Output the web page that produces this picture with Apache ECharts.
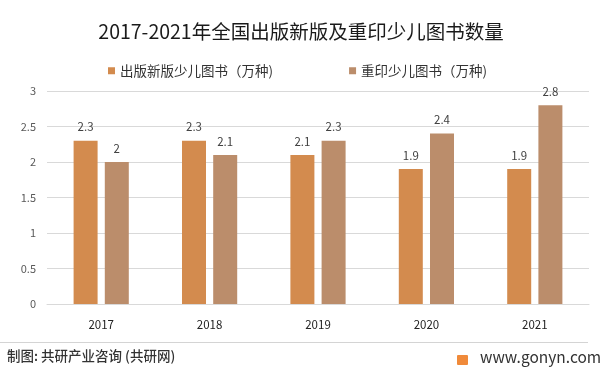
<!DOCTYPE html>
<html><head><meta charset="utf-8">
<script src="https://cdn.jsdelivr.net/npm/echarts@6/dist/echarts.min.js"></script>
<style>html,body{margin:0;padding:0;background:#fff}#c{width:602px;height:375px}</style>
</head><body><div id="c"></div>
<script>
const categories = ['2017','2018','2019','2020','2021'];
const newBooks = [2.3, 2.3, 2.1, 1.9, 1.9];
const reprintBooks = [2.0, 2.1, 2.3, 2.4, 2.8];
const seriesNames = ['出版新版少儿图书（万种)', '重印少儿图书（万种)'];
const yTicks = [0, 0.5, 1, 1.5, 2, 2.5, 3];

const chart = echarts.init(document.getElementById('c'));
const font = '"Noto Sans CJK SC", "Microsoft YaHei", sans-serif';
chart.setOption({
  backgroundColor: '#fff',
  animation: false,
  title: {
    text: '2017-2021年全国出版新版及重印少儿图书数量',
    left: 'center', top: 17,
    textStyle: {fontFamily: font, fontSize: 19.5, fontWeight: 'normal', color: '#1a1a1a'}
  },
  legend: {
    top: 59, left: 103, itemGap: 76,
    itemWidth: 7, itemHeight: 7, icon: 'rect',
    textStyle: {fontFamily: font, fontSize: 13.5, color: '#333'},
    data: seriesNames
  },
  grid: {left: 47, right: 13, top: 91, bottom: 71, containLabel: false},
  xAxis: {
    type: 'category', data: categories,
    axisLine: {lineStyle: {color: '#d9d9d9'}},
    axisTick: {show: false},
    axisLabel: {fontFamily: font, fontSize: 11.5, color: '#222', margin: 15}
  },
  yAxis: {
    type: 'value', min: yTicks[0], max: yTicks[yTicks.length-1], interval: 0.5,
    axisLine: {show: false}, axisTick: {show: false},
    splitLine: {lineStyle: {color: '#d9d9d9'}},
    axisLabel: {fontFamily: font, fontSize: 11, color: '#595959', margin: 11}
  },
  series: [
    {name: seriesNames[0], type: 'bar', data: newBooks, barWidth: 24, barGap: '30%',
     itemStyle: {color: '#D38B4E'},
     label: {show: true, position: 'top', distance: 8, fontFamily: font, fontSize: 11.5, color: '#404040'}},
    {name: seriesNames[1], type: 'bar', data: reprintBooks, barWidth: 24,
     itemStyle: {color: '#BB8D6B'},
     label: {show: true, position: 'top', distance: 8, fontFamily: font, fontSize: 11.5, color: '#404040'}}
  ],
  graphic: [
    {type: 'rect', shape: {x: 0, y: 342, width: 588, height: 1}, style: {fill: '#d4d4d4'}},
    {type: 'text', left: 7, top: 349, style: {text: '制图: 共研产业咨询 (共研网)', fontFamily: font, fontSize: 13.5, fontWeight: 500, fill: '#333'}},
    {type: 'rect', shape: {x: 457, y: 355, width: 11, height: 10, r: 1}, style: {fill: '#F08A3A'}},
    {type: 'text', left: 480, top: 349, style: {text: 'www.gonyn.com', fontFamily: font, fontSize: 15.5, fill: '#333'}}
  ]
});
</script></body></html>
